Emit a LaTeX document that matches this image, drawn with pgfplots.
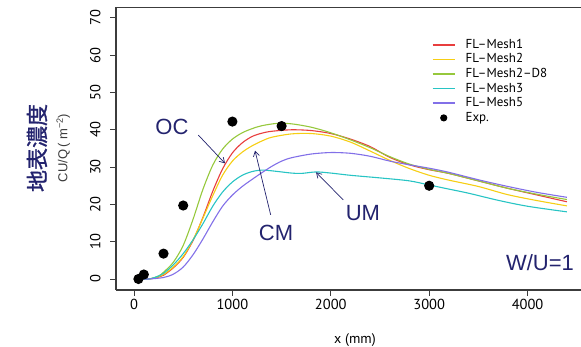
\documentclass[border=0pt]{standalone}
\usepackage{fontspec}
\setmainfont{PT Sans}
\newfontfamily\arial{Liberation Sans}
\newfontfamily\cjk[FakeBold=1.2]{Noto Sans CJK JP}
\usepackage{pgfplots}
\pgfplotsset{compat=1.18}
\usetikzlibrary{arrows.meta}
\definecolor{cRed}{RGB}{232,62,62}
\definecolor{cYel}{RGB}{246,206,20}
\definecolor{cGrn}{RGB}{150,200,60}
\definecolor{cCya}{RGB}{40,196,196}
\definecolor{cPur}{RGB}{130,112,232}
\definecolor{navy}{RGB}{35,35,110}
\definecolor{axgray}{RGB}{60,60,60}
\begin{document}
\begin{tikzpicture}
\begin{axis}[
  at={(0pt,0pt)}, anchor=south west,
  scale only axis, width=465pt, height=282.7pt,
  xmin=-183, xmax=4543, ymin=-2.95, ymax=72.84,
  axis x line*=bottom, axis y line*=left,
  axis line style={line width=1.2pt, color=axgray},
  xtick={0,1000,2000,3000,4000}, ytick={0,10,...,70},
  tick align=outside, major tick length=6pt,
  tick style={line width=0.9pt, color=axgray},
  /pgf/number format/assume math mode=true,
  /pgf/number format/1000 sep={},
  ticklabel style={font=\fontsize{14.5}{16}\selectfont},
  yticklabel style={rotate=90, anchor=south},
  yticklabel shift=6pt,
  legend style={at={(0.679,0.893)}, anchor=north west, draw=none, fill=none,
    font=\fontsize{13}{14}\selectfont, inner sep=0pt, row sep=0.3pt,
    nodes={inner sep=1pt, text height=9.5pt, text depth=2.8pt},
    /tikz/every odd column/.append style={column sep=9pt}},
  legend cell align=left,
  legend image code/.code={\draw[#1, line width=1.6pt] (0pt,0pt) -- (22pt,0pt);},
  every axis plot/.append style={line width=1.1pt},
]
\addplot[cRed, smooth, no marks] coordinates {(0,0)(150,0)(250,0.5)(300,1)(400,3)(500,5.8)(600,10.3)(700,16.5)(800,23.5)(900,29.5)(1000,33.8)(1100,36.5)(1200,38.2)(1300,39.1)(1400,39.6)(1600,40)(1800,39.8)(2000,39)(2200,37.5)(2400,35.5)(2600,32.6)(2800,30.6)(3000,29.3)(3200,28.3)(3500,26.3)(3800,24.3)(4100,22.5)(4400,20.7)};
\addlegendentry{FL–Mesh1}
\addplot[cYel, smooth, no marks] coordinates {(0,0)(150,0)(250,0.6)(300,1.2)(400,3.2)(500,6)(600,10.5)(700,16.3)(800,22.3)(900,27.8)(1000,31.6)(1100,34)(1200,35.7)(1300,37)(1400,38)(1600,38.9)(1800,39)(2000,38.3)(2200,36.7)(2400,34.3)(2600,31.8)(2800,29.6)(3000,27.8)(3200,26.5)(3500,24.8)(3800,22.6)(4100,21)(4400,19.6)};
\addlegendentry{FL–Mesh2}
\addplot[cGrn, smooth, no marks] coordinates {(0,0)(150,0)(250,0.8)(300,1.8)(400,4.5)(500,9)(600,16)(700,24)(800,30.5)(900,34.8)(1000,37.5)(1100,39.2)(1200,40.3)(1300,41.1)(1450,41.7)(1600,41.6)(1800,40.7)(2000,39.2)(2200,37.3)(2400,35.2)(2600,32.8)(2800,30.8)(3000,29.4)(3200,28.3)(3500,26.3)(3800,24.3)(4100,22.7)(4400,21.3)};
\addlegendentry{FL–Mesh2–D8}
\addplot[cCya, smooth, no marks] coordinates {(0,0)(150,0)(250,0.8)(300,1.5)(400,3.8)(500,6.8)(600,10.5)(700,14.8)(800,19.5)(900,23.3)(1000,26)(1100,27.8)(1200,28.8)(1300,29.2)(1400,29)(1500,28.7)(1600,28.4)(1700,28.3)(1850,28.7)(2000,28.4)(2200,27.8)(2500,27.1)(2800,26.3)(3000,25.2)(3200,24.1)(3400,23)(3700,21.1)(4000,19.5)(4400,18)};
\addlegendentry{FL–Mesh3}
\addplot[cPur, smooth, no marks] coordinates {(0,0)(150,0)(300,0.4)(400,1.3)(500,3.2)(600,6.5)(700,10.7)(800,15.3)(900,19.5)(1000,22.5)(1100,24.8)(1200,26.7)(1300,28.5)(1400,30.2)(1500,31.6)(1600,32.5)(1800,33.5)(2000,33.9)(2200,33.7)(2400,32.9)(2600,31.6)(2800,30.6)(3000,29.7)(3200,28.6)(3500,26.6)(3800,24.8)(4100,23.2)(4400,21.9)};
\addlegendentry{FL–Mesh5}
\addplot[only marks, mark=*, mark size=4.5pt, black,
  legend image code/.code={\fill[black] (11pt,0pt) circle (3pt);}] coordinates {(45,0)(100,1.2)(300,6.8)(500,19.7)(1000,42.2)(1500,41)(3000,25)};
\addlegendentry{Exp.}
\node[navy, font=\arial\fontsize{22}{22}\selectfont] at (axis cs:386,40.75) {OC};
\draw[navy, line width=0.7pt, -{Straight Barb[length=5pt,width=6pt]}] (axis cs:653,38.6) -- (axis cs:925,31.0);
\node[navy, font=\arial\fontsize{22}{22}\selectfont] at (axis cs:1443,12.3) {CM};
\draw[navy, line width=0.7pt, -{Straight Barb[length=5pt,width=6pt]}] (axis cs:1389,17.2) -- (axis cs:1230,34.4);
\node[navy, font=\arial\fontsize{22}{22}\selectfont] at (axis cs:2327,17.7) {UM};
\draw[navy, line width=0.7pt, -{Straight Barb[length=5pt,width=6pt]}] (axis cs:2127,21.2) -- (axis cs:1850,28.6);
\node[navy, font=\arial\fontsize{22}{22}\selectfont] at (axis cs:4126,4.3) {W/U=1};
\end{axis}
\draw[line width=1.2pt, color=axgray] (0pt,282.7pt) -- (465pt,282.7pt);
\node[rotate=90, navy, font=\cjk\fontsize{22}{22}\selectfont] at (-79pt,142pt) {地表濃度};
\node[rotate=90, color=axgray, font=\arial\fontsize{13}{13}\selectfont] at (-52.7pt,142pt) {CU/Q\,( m\textsuperscript{−2})};
\node[font=\fontsize{14}{14}\selectfont] at (239pt,-50pt) {x (mm)};
\pgfresetboundingbox
\useasboundingbox (-116pt,-57pt) rectangle (465pt,290pt);
\end{tikzpicture}
\end{document}
